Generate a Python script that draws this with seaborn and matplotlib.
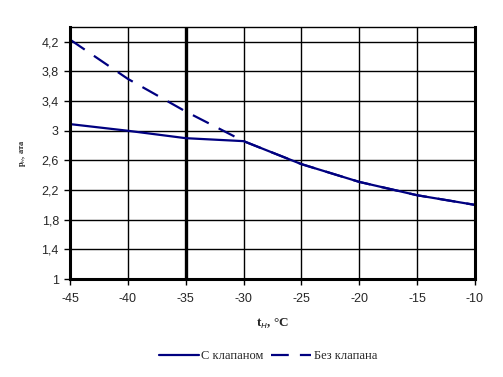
import matplotlib
matplotlib.use("Agg")
import matplotlib.pyplot as plt
import seaborn as sns
import pandas as pd
from matplotlib.ticker import FuncFormatter
from matplotlib.lines import Line2D

t_out = [-45, -40, -35, -30, -25, -20, -15, -10]
with_valve = [3.09, 3.0, 2.90, 2.86, 2.55, 2.31, 2.13, 2.0]
without_valve = [4.23, 3.70, 3.26, 2.86, 2.55, 2.31, 2.13, 2.0]
series_names = ["С клапаном", "Без клапана"]
y_ticks = [1, 1.4, 1.8, 2.2, 2.6, 3.0, 3.4, 3.8, 4.2]
x_ticks = [-45, -40, -35, -30, -25, -20, -15, -10]

df = pd.DataFrame({
    "t": t_out * 2,
    "p": with_valve + without_valve,
    "series": [series_names[0]] * len(t_out) + [series_names[1]] * len(t_out),
})

sns.set_style("white")
plt.rcParams["font.family"] = ["Liberation Sans", "DejaVu Sans"]

fig = plt.figure(figsize=(5.03, 3.77), dpi=100)
ax = fig.add_axes([70 / 503, 1 - 279 / 377, 405 / 503, 252 / 377])

navy = "#000080"
sns.lineplot(data=df, x="t", y="p", hue="series", style="series",
             palette=[navy, navy], dashes=[(1, 0), (8, 5)], linewidth=1.6,
             ax=ax, legend=False)

ax.set_xlim(-45, -10)
ax.set_ylim(1, 4.4)
ax.set_xticks(x_ticks)
ax.set_yticks(y_ticks)

def fmt(v, pos):
    s = ("%.1f" % v).rstrip("0").rstrip(".")
    return s.replace(".", ",")

ax.yaxis.set_major_formatter(FuncFormatter(fmt))
ax.xaxis.set_major_formatter(FuncFormatter(lambda v, p: "%d" % v))
ax.grid(True, color="black", linewidth=1.0)
ax.set_axisbelow(True)
ax.axvline(-35, color="black", linewidth=2.4, zorder=1)

for s in ["left", "bottom", "right"]:
    ax.spines[s].set_linewidth(2.2)
    ax.spines[s].set_color("black")
ax.spines["top"].set_linewidth(1.0)
ax.spines["top"].set_color("black")

ax.tick_params(axis="both", which="major", direction="out", length=4,
               width=1, color="black", labelsize=9, bottom=True, left=True)
ax.tick_params(axis="x", pad=6)
ax.tick_params(axis="y", pad=4)

ax.set_xlabel("t$_н$, °C", fontfamily="Liberation Serif", fontweight="bold",
              fontsize=9.5, labelpad=9)
ax.set_ylabel("p$_н$, ата", fontfamily="Liberation Serif", fontweight="bold",
              fontsize=6, labelpad=10)

handles = [Line2D([], [], color=navy, linewidth=1.6),
           Line2D([], [], color=navy, linewidth=1.6, dashes=(8, 5))]
fig.legend(handles, series_names, loc="center", bbox_to_anchor=(268 / 503, 1 - 356 / 377),
           ncol=2, frameon=False, prop={"family": "Liberation Serif", "size": 9},
           handlelength=3.2, handletextpad=0.2, columnspacing=0.6)

fig.savefig("out.png", dpi=100)
